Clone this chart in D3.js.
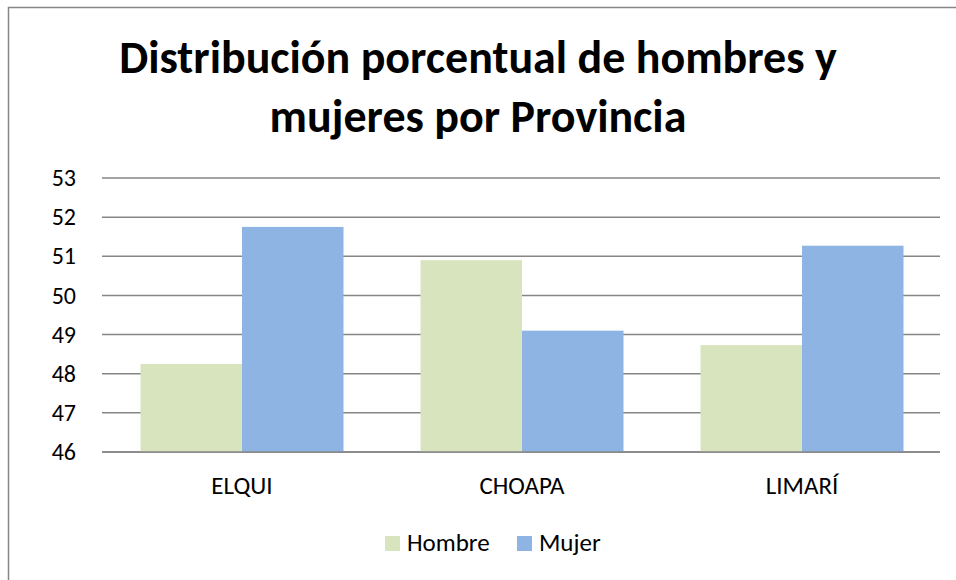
<!DOCTYPE html>
<html>
<head>
<meta charset="utf-8">
<script src="https://cdn.jsdelivr.net/npm/d3@7"></script>
<style>
  body { margin: 0; background: #fff; }
  text { font-family: Carlito, Calibri, "Open Sans", sans-serif; fill: #000; }
</style>
</head>
<body>
<div id="chart"></div>
<script>
// DATA
const provincias = ["ELQUI", "CHOAPA", "LIMARÍ"];
const series = ["Hombre", "Mujer"];
const hombre = [48.25, 50.9, 48.73];
const mujer = [51.75, 49.1, 51.27];
const yTicks = [46, 47, 48, 49, 50, 51, 52, 53];
const titleLines = ["Distribución porcentual de hombres y", "mujeres por Provincia"];

const W = 956, H = 580;
const margin = { top: 178, right: 16, bottom: 128, left: 102 };
const width = W - margin.left - margin.right;
const height = H - margin.top - margin.bottom;

const colors = { Hombre: "#d7e4bd", Mujer: "#8eb4e3" };
const font = "Carlito, Calibri, 'Open Sans', sans-serif";

const svg = d3.select("#chart").append("svg")
    .attr("width", W)
    .attr("height", H);

// frame (only left and top visible)
svg.append("path")
    .attr("d", `M8.5,${H} V7.5 H${W}`)
    .attr("fill", "none")
    .attr("stroke", "#868686")
    .attr("stroke-width", 1.5);

const g = svg.append("g")
    .attr("transform", `translate(${margin.left},${margin.top})`);

// scales
const x0 = d3.scaleBand()
    .domain(provincias)
    .range([0, 840])
    .paddingInner(0.275)
    .paddingOuter(0.1375);

const x1 = d3.scaleBand()
    .domain(series)
    .range([0, x0.bandwidth()]);

const y = d3.scaleLinear()
    .domain([46, 53])
    .range([height, 0]);

// gridlines
g.append("g")
    .selectAll("line")
    .data(yTicks)
    .join("line")
    .attr("x1", 0)
    .attr("x2", 838)
    .attr("y1", d => y(d))
    .attr("y2", d => y(d))
    .attr("stroke", "#868686")
    .attr("stroke-width", 1.5);

// y axis labels
const yAxis = g.append("g")
    .call(d3.axisLeft(y).tickValues(yTicks).tickFormat(d3.format("d")).tickSize(0).tickPadding(26));
yAxis.select(".domain").remove();
yAxis.selectAll(".tick text")
    .style("font-size", "24px")
    .style("font-family", font)
    .attr("fill", "#000");

// bars
const rows = provincias.map((p, i) => ({ prov: p, Hombre: hombre[i], Mujer: mujer[i] }));

g.append("g")
    .selectAll("g")
    .data(rows)
    .join("g")
    .attr("transform", d => `translate(${x0(d.prov)},0)`)
    .selectAll("rect")
    .data(d => series.map(s => ({ key: s, value: d[s] })))
    .join("rect")
    .attr("x", d => x1(d.key))
    .attr("width", x1.bandwidth())
    .attr("y", d => y(d.value))
    .attr("height", d => y(46) - y(d.value))
    .attr("fill", d => colors[d.key]);

// baseline over bars
g.append("line")
    .attr("x1", 0).attr("x2", 838)
    .attr("y1", y(46)).attr("y2", y(46))
    .attr("stroke", "#868686")
    .attr("stroke-width", 1.5);

// x axis labels
const xAxis = g.append("g")
    .attr("transform", `translate(0,${height})`)
    .call(d3.axisBottom(x0).tickSize(0));
xAxis.select(".domain").remove();
xAxis.selectAll(".tick text")
    .attr("y", 42)
    .attr("dy", null)
    .style("font-size", "25px")
    .style("font-family", font)
    .attr("fill", "#000");

// title
const title = svg.append("text")
    .attr("text-anchor", "middle")
    .style("font-size", "46px")
    .style("font-weight", "bold");
title.selectAll("tspan")
    .data(titleLines)
    .join("tspan")
    .attr("x", 478)
    .attr("y", (d, i) => 73 + i * 59)
    .text(d => d);

// legend
const legend = svg.append("g")
    .selectAll("g")
    .data(series)
    .join("g")
    .attr("transform", (d, i) => `translate(${[385, 517][i]},536)`);

legend.append("rect")
    .attr("width", 15)
    .attr("height", 15)
    .attr("fill", d => colors[d]);

legend.append("text")
    .attr("x", 22)
    .attr("y", 15)
    .style("font-size", "25px")
    .text(d => d);
</script>
</body>
</html>
